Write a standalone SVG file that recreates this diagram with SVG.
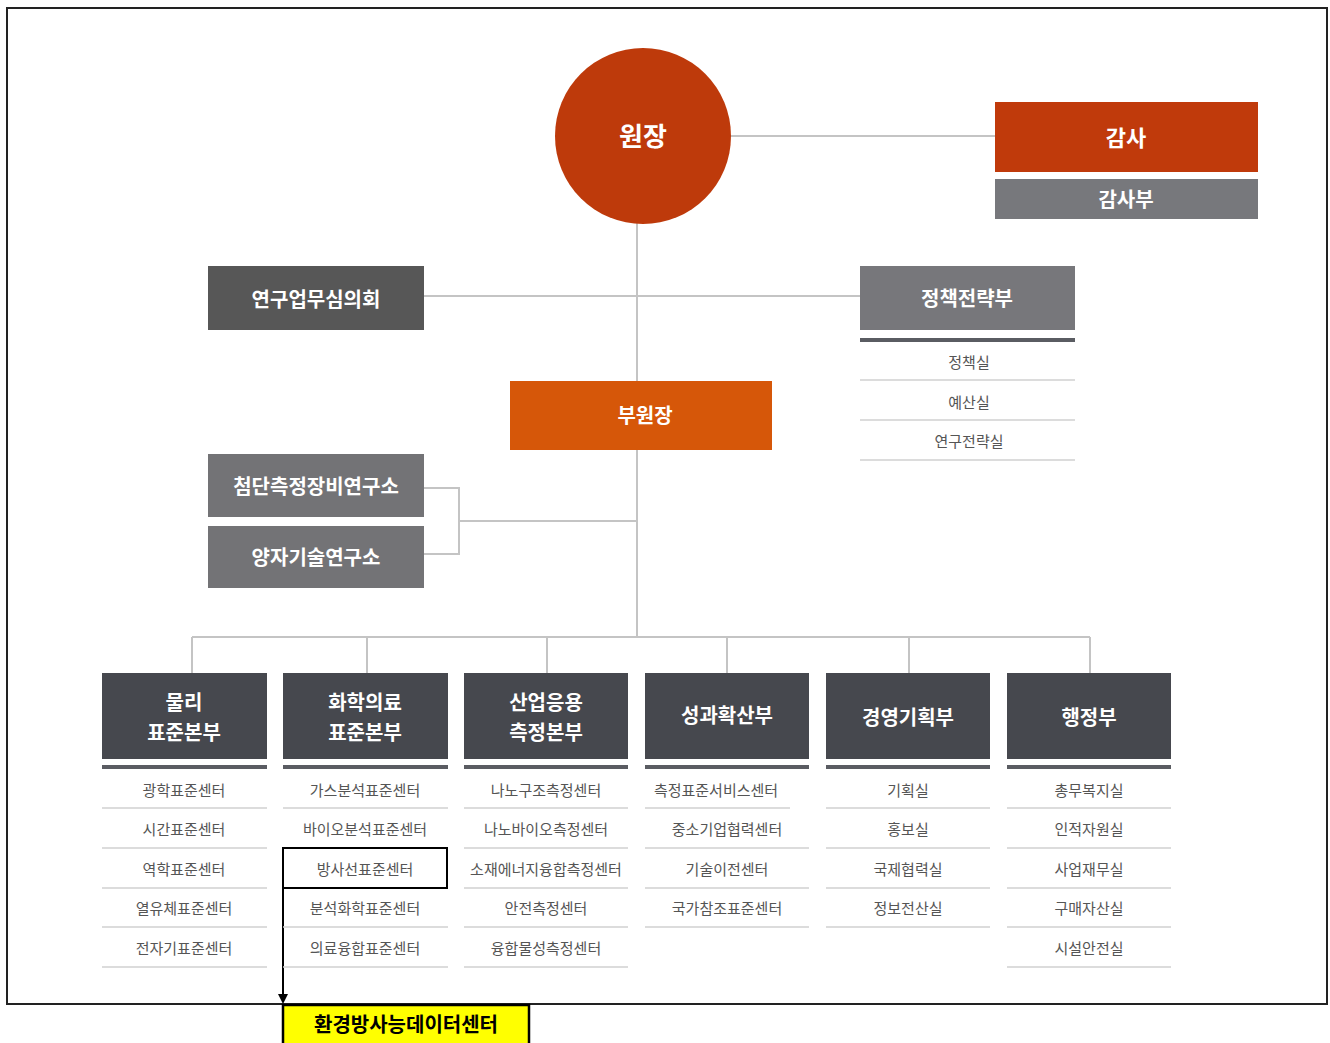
<svg xmlns="http://www.w3.org/2000/svg" width="1330" height="1043" viewBox="0 0 1330 1043">
<style>
text{font-family:"Noto Sans CJK KR","Noto Sans",sans-serif;text-anchor:middle;dominant-baseline:central}
.hw{fill:#fff;font-weight:700;font-size:20px}
.it{fill:#555;font-size:15px}
.con{stroke:#c4c4c4;stroke-width:2;fill:none}
.sep{stroke:#d0d0d0;stroke-width:1.5}
.thk{stroke:#5a5c62;stroke-width:4}
.dk{fill:#46484e}
</style>
<rect x="0" y="0" width="1330" height="1043" fill="#fff"/>
<rect x="7" y="8" width="1320" height="996" fill="none" stroke="#222" stroke-width="2"/>
<g id="connectors">
<line class="con" x1="731" y1="136" x2="995" y2="136"/>
<line class="con" x1="637" y1="222" x2="637" y2="637"/>
<line class="con" x1="424" y1="296" x2="860" y2="296"/>
<polyline class="con" points="424,488 459,488 459,554 424,554"/>
<line class="con" x1="459" y1="521" x2="637" y2="521"/>
<line class="con" x1="192" y1="637" x2="1090" y2="637"/>
<line class="con" x1="192" y1="637" x2="192" y2="673"/>
<line class="con" x1="367" y1="637" x2="367" y2="673"/>
<line class="con" x1="547" y1="637" x2="547" y2="673"/>
<line class="con" x1="727" y1="637" x2="727" y2="673"/>
<line class="con" x1="909" y1="637" x2="909" y2="673"/>
<line class="con" x1="1090" y1="637" x2="1090" y2="673"/>
<line x1="283" y1="888" x2="283" y2="996" stroke="#000" stroke-width="2"/>
<polygon points="278,994 288,994 283,1004" fill="#000"/>
</g>
<g id="n-wonjang"><circle cx="643" cy="136" r="88" fill="#be3a0b"/><text x="643" y="134" fill="#fff" font-weight="700" font-size="26">원장</text></g>
<g id="n-gamsa"><rect x="995" y="102" width="263" height="70" fill="#c03a0b"/><text x="1126" y="136" fill="#fff" font-weight="700" font-size="22">감사</text></g>
<g id="n-gamsabu"><rect x="995" y="179" width="263" height="40" fill="#77787c"/><text class="hw" x="1126" y="198">감사부</text></g>
<g id="n-council"><rect x="208" y="266" width="216" height="64" fill="#575757"/><text class="hw" x="316" y="298">연구업무심의회</text></g>
<g id="n-policy"><rect x="860" y="266" width="215" height="64" fill="#77777b"/><text class="hw" x="967" y="297">정책전략부</text>
<line class="thk" x1="860" y1="340" x2="1075" y2="340"/>
<text class="it" x="969" y="361">정책실</text><line class="sep" x1="860" y1="380" x2="1075" y2="380"/>
<text class="it" x="969" y="401">예산실</text><line class="sep" x1="860" y1="420" x2="1075" y2="420"/>
<text class="it" x="969" y="440">연구전략실</text><line class="sep" x1="860" y1="460" x2="1075" y2="460"/></g>
<g id="n-vice"><rect x="510" y="381" width="262" height="69" fill="#d65709"/><text class="hw" x="645" y="414">부원장</text></g>
<g id="n-inst1"><rect x="208" y="454" width="216" height="63" fill="#737376"/><text class="hw" x="316" y="485">첨단측정장비연구소</text></g>
<g id="n-inst2"><rect x="208" y="526" width="216" height="62" fill="#737376"/><text class="hw" x="316" y="556">양자기술연구소</text></g>
<g id="n-d1"><rect class="dk" x="102" y="673" width="165" height="86"/><text class="hw" x="184" y="701">물리</text><text class="hw" x="184" y="731">표준본부</text>
<line class="thk" x1="102" y1="767" x2="267" y2="767"/>
<text class="it" x="184" y="789">광학표준센터</text><line class="sep" x1="102" y1="808" x2="267" y2="808"/>
<text class="it" x="184" y="828">시간표준센터</text><line class="sep" x1="102" y1="848" x2="267" y2="848"/>
<text class="it" x="184" y="868">역학표준센터</text><line class="sep" x1="102" y1="888" x2="267" y2="888"/>
<text class="it" x="184" y="907">열유체표준센터</text><line class="sep" x1="102" y1="927" x2="267" y2="927"/>
<text class="it" x="184" y="947">전자기표준센터</text><line class="sep" x1="102" y1="967" x2="267" y2="967"/></g>
<g id="n-d2"><rect class="dk" x="283" y="673" width="165" height="86"/><text class="hw" x="365" y="701">화학의료</text><text class="hw" x="365" y="731">표준본부</text>
<line class="thk" x1="283" y1="767" x2="448" y2="767"/>
<text class="it" x="365" y="789">가스분석표준센터</text><line class="sep" x1="283" y1="808" x2="448" y2="808"/>
<text class="it" x="365" y="828">바이오분석표준센터</text>
<rect x="283" y="848" width="164" height="40" fill="none" stroke="#000" stroke-width="2"/>
<text class="it" x="365" y="868">방사선표준센터</text>
<text class="it" x="365" y="907">분석화학표준센터</text><line class="sep" x1="283" y1="927" x2="448" y2="927"/>
<text class="it" x="365" y="947">의료융합표준센터</text><line class="sep" x1="283" y1="967" x2="448" y2="967"/></g>
<g id="n-d3"><rect class="dk" x="464" y="673" width="164" height="86"/><text class="hw" x="546" y="701">산업응용</text><text class="hw" x="546" y="731">측정본부</text>
<line class="thk" x1="464" y1="767" x2="628" y2="767"/>
<text class="it" x="546" y="789">나노구조측정센터</text><line class="sep" x1="464" y1="808" x2="628" y2="808"/>
<text class="it" x="546" y="828">나노바이오측정센터</text><line class="sep" x1="464" y1="848" x2="628" y2="848"/>
<text class="it" x="546" y="868">소재에너지융합측정센터</text><line class="sep" x1="464" y1="888" x2="628" y2="888"/>
<text class="it" x="546" y="907">안전측정센터</text><line class="sep" x1="464" y1="927" x2="628" y2="927"/>
<text class="it" x="546" y="947">융합물성측정센터</text><line class="sep" x1="464" y1="967" x2="628" y2="967"/></g>
<g id="n-d4"><rect class="dk" x="645" y="673" width="164" height="86"/><text class="hw" x="727" y="714">성과확산부</text>
<line class="thk" x1="645" y1="767" x2="809" y2="767"/>
<text class="it" x="716" y="789">측정표준서비스센터</text><line class="sep" x1="645" y1="808" x2="790" y2="808"/>
<text class="it" x="727" y="828">중소기업협력센터</text><line class="sep" x1="645" y1="848" x2="809" y2="848"/>
<text class="it" x="727" y="868">기술이전센터</text><line class="sep" x1="645" y1="888" x2="809" y2="888"/>
<text class="it" x="727" y="907">국가참조표준센터</text><line class="sep" x1="645" y1="927" x2="809" y2="927"/></g>
<g id="n-d5"><rect class="dk" x="826" y="673" width="164" height="86"/><text class="hw" x="908" y="716">경영기획부</text>
<line class="thk" x1="826" y1="767" x2="990" y2="767"/>
<text class="it" x="908" y="789">기획실</text><line class="sep" x1="826" y1="808" x2="990" y2="808"/>
<text class="it" x="908" y="828">홍보실</text><line class="sep" x1="826" y1="848" x2="990" y2="848"/>
<text class="it" x="908" y="868">국제협력실</text><line class="sep" x1="826" y1="888" x2="990" y2="888"/>
<text class="it" x="908" y="907">정보전산실</text><line class="sep" x1="826" y1="927" x2="990" y2="927"/></g>
<g id="n-d6"><rect class="dk" x="1007" y="673" width="164" height="86"/><text class="hw" x="1089" y="716">행정부</text>
<line class="thk" x1="1007" y1="767" x2="1171" y2="767"/>
<text class="it" x="1089" y="789">총무복지실</text><line class="sep" x1="1007" y1="808" x2="1171" y2="808"/>
<text class="it" x="1089" y="828">인적자원실</text><line class="sep" x1="1007" y1="848" x2="1171" y2="848"/>
<text class="it" x="1089" y="868">사업재무실</text><line class="sep" x1="1007" y1="888" x2="1171" y2="888"/>
<text class="it" x="1089" y="907">구매자산실</text><line class="sep" x1="1007" y1="927" x2="1171" y2="927"/>
<text class="it" x="1089" y="947">시설안전실</text><line class="sep" x1="1007" y1="967" x2="1171" y2="967"/></g>
<g id="n-env"><rect x="283" y="1005" width="246" height="40" fill="#ffff00" stroke="#000" stroke-width="2.5"/><text x="406" y="1023" fill="#000" font-weight="700" font-size="20">환경방사능데이터센터</text></g>
</svg>
